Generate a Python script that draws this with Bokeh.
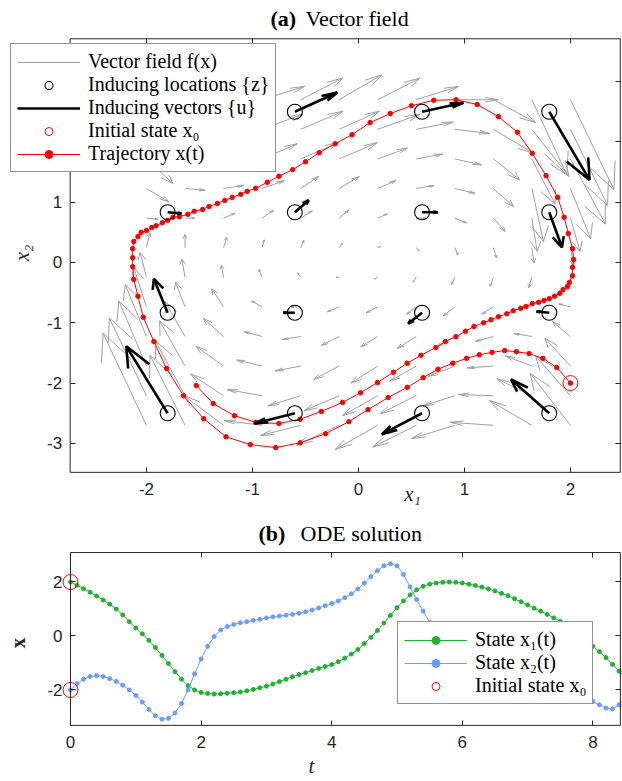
from bokeh.plotting import figure
from bokeh.models import (Range1d, LinearAxis, FixedTicker, Legend, LegendItem, Label,
                          BoxAnnotation)
from bokeh.layouts import column
from bokeh.embed import file_html
from bokeh.resources import INLINE

# ---------------- data: panel (a) ----------------
GRID_X = [-2.0, -1.636, -1.273, -0.909, -0.545, -0.182, 0.182, 0.545, 0.909, 1.273, 1.636, 2.0]
GRID_Y = [-2.7, -2.209, -1.718, -1.227, -0.736, -0.245, 0.245, 0.736, 1.227, 1.718, 2.209, 2.7]
# rows follow GRID_Y (bottom to top), columns follow GRID_X
FIELD_U = [
    [-0.41, -0.33, -0.38, -0.36, -0.38, -0.40, -0.40, -0.41, -0.41, -0.41, -0.40, -0.38],
    [-0.35, -0.28, -0.31, -0.33, -0.31, -0.33, -0.33, -0.34, -0.30, -0.33, -0.33, -0.33],
    [-0.26, -0.24, -0.26, -0.24, -0.24, -0.24, -0.25, -0.25, -0.25, -0.25, -0.25, -0.24],
    [-0.20, -0.19, -0.19, -0.17, -0.17, -0.17, -0.16, -0.18, -0.17, -0.17, -0.17, -0.17],
    [-0.12, -0.09, -0.11, -0.10, -0.09, -0.11, -0.11, -0.09, -0.11, -0.11, -0.09, -0.11],
    [-0.06, -0.03, -0.02, -0.03, -0.03, -0.03, -0.03, -0.03, -0.03, -0.03, -0.03, -0.02],
    [0.03, 0.00, 0.03, 0.02, 0.03, 0.03, 0.03, 0.03, 0.03, 0.03, 0.02, 0.03],
    [0.11, 0.09, 0.11, 0.11, 0.11, 0.09, 0.09, 0.09, 0.11, 0.11, 0.05, 0.09],
    [0.21, 0.19, 0.19, 0.21, 0.17, 0.19, 0.17, 0.17, 0.19, 0.19, 0.11, 0.19],
    [0.25, 0.28, 0.30, 0.33, 0.36, 0.36, 0.28, 0.25, 0.25, 0.25, 0.22, 0.33],
    [0.28, 0.33, 0.36, 0.38, 0.40, 0.38, 0.40, 0.35, 0.33, 0.38, 0.35, 0.35],
    [0.33, 0.36, 0.38, 0.40, 0.40, 0.40, 0.40, 0.40, 0.41, 0.40, 0.33, 0.41],
]
FIELD_V = [
    [1.53, 1.16, 0.50, 0.08, -0.17, -0.33, -0.40, -0.36, -0.22, 0.05, 0.41, 0.86],
    [1.29, 0.91, 0.36, 0.10, -0.17, -0.25, -0.33, -0.30, -0.17, 0.02, 0.28, 0.66],
    [1.08, 0.75, 0.33, 0.10, -0.08, -0.22, -0.28, -0.25, -0.17, -0.03, 0.17, 0.46],
    [0.86, 0.58, 0.30, 0.08, -0.05, -0.15, -0.17, -0.20, -0.17, -0.08, 0.05, 0.25],
    [0.65, 0.41, 0.30, 0.10, 0.00, -0.08, -0.10, -0.12, -0.15, -0.12, 0.00, 0.05],
    [0.41, 0.30, 0.20, 0.13, 0.07, 0.00, -0.03, -0.08, -0.12, -0.15, -0.17, -0.20],
    [0.25, 0.22, 0.17, 0.13, 0.12, 0.07, 0.02, -0.05, -0.12, -0.17, -0.25, -0.30],
    [-0.02, 0.00, 0.08, 0.13, 0.12, 0.13, 0.07, 0.00, -0.08, -0.22, -0.55, -0.55],
    [-0.22, -0.03, 0.05, 0.13, 0.20, 0.20, 0.13, 0.05, -0.08, -0.30, -0.88, -0.83],
    [-0.41, -0.17, 0.17, 0.25, 0.27, 0.27, 0.18, 0.08, -0.10, -0.35, -0.75, -1.08],
    [-0.08, 0.08, 0.25, 0.25, 0.30, 0.30, 0.25, 0.12, -0.07, -0.40, -0.78, -1.26],
    [0.20, 0.25, 0.30, 0.22, 0.36, 0.41, 0.36, 0.22, 0.00, -0.38, -1.24, -1.49],
]

Z_X = [-1.8, -0.6, 0.6, 1.8]
Z_Y = [-2.5, -0.833, 0.833, 2.5]
IND_U = [
    [-0.39, -0.38, -0.38, -0.36],
    [-0.13, -0.11, -0.13, -0.12],
    [0.13, 0.13, 0.15, 0.12],
    [0.38, 0.40, 0.39, 0.38],
]
IND_V = [
    [1.11, -0.17, -0.35, 0.56],
    [0.56, 0.00, -0.18, 0.02],
    [-0.02, 0.20, 0.00, -0.58],
    [0.25, 0.32, 0.15, -1.13],
]

X0 = [2.0, -2.0]

TRAJ_X1 = [2.00, 1.87, 1.74, 1.61, 1.49, 1.38, 1.26, 1.14, 1.02, 0.89, 0.75, 0.61, 0.46, 0.28, 0.09,
           -0.09, -0.31, -0.55, -0.78, -1.02, -1.25, -1.46, -1.65, -1.81, -1.93, -2.03, -2.08, -2.12,
           -2.13, -2.13, -2.13, -2.12, -2.08, -2.05, -2.00, -1.95, -1.91, -1.85, -1.80, -1.75, -1.69,
           -1.61, -1.55, -1.47, -1.41, -1.33, -1.26, -1.19, -1.11, -1.05, -0.97, -0.86, -0.75, -0.62,
           -0.50, -0.37, -0.22, -0.06, 0.11, 0.30, 0.50, 0.71, 0.92, 1.12, 1.32, 1.50, 1.64, 1.77,
           1.88, 1.94, 1.98, 2.02, 2.03, 2.02, 2.02, 1.99, 1.97, 1.93, 1.90, 1.85, 1.80, 1.75, 1.70,
           1.64, 1.58, 1.53, 1.46, 1.40, 1.32, 1.25, 1.18, 1.09, 1.01, 0.92, 0.82, 0.73, 0.59, 0.46,
           0.33, 0.18, 0.02, -0.15, -0.35, -0.55, -0.75, -0.97, -1.17, -1.37, -1.53]
TRAJ_X2 = [-2.00, -1.74, -1.59, -1.51, -1.48, -1.46, -1.49, -1.53, -1.59, -1.67, -1.77, -1.91, -2.07,
           -2.24, -2.44, -2.64, -2.84, -2.99, -3.07, -3.02, -2.89, -2.59, -2.21, -1.76, -1.31, -0.91,
           -0.56, -0.28, -0.07, 0.08, 0.23, 0.35, 0.43, 0.50, 0.53, 0.58, 0.61, 0.66, 0.70, 0.75, 0.76,
           0.80, 0.85, 0.88, 0.93, 0.98, 1.03, 1.08, 1.13, 1.18, 1.23, 1.33, 1.43, 1.54, 1.67, 1.82,
           1.97, 2.12, 2.32, 2.47, 2.60, 2.69, 2.70, 2.62, 2.42, 2.16, 1.81, 1.44, 1.08, 0.75, 0.48,
           0.23, 0.05, -0.08, -0.22, -0.33, -0.40, -0.45, -0.51, -0.56, -0.60, -0.63, -0.66, -0.68,
           -0.73, -0.76, -0.80, -0.85, -0.90, -0.95, -1.00, -1.06, -1.14, -1.23, -1.31, -1.41, -1.54,
           -1.67, -1.82, -1.99, -2.16, -2.32, -2.47, -2.60, -2.67, -2.65, -2.54, -2.34, -2.04]

# ---------------- data: panel (b) ----------------
T = [0.0, 0.1, 0.2, 0.3, 0.4, 0.5, 0.6, 0.7, 0.8, 0.9, 1.0, 1.1, 1.2, 1.3, 1.4, 1.5, 1.6, 1.7, 1.8, 1.9,
     2.0, 2.1, 2.2, 2.3, 2.4, 2.5, 2.6, 2.7, 2.8, 2.9, 3.0, 3.1, 3.2, 3.3, 3.4, 3.5, 3.6, 3.7, 3.8, 3.9,
     4.0, 4.1, 4.2, 4.3, 4.4, 4.5, 4.6, 4.7, 4.8, 4.9, 5.0, 5.1, 5.2, 5.3, 5.4, 5.5, 5.6, 5.7, 5.8, 5.9,
     6.0, 6.1, 6.2, 6.3, 6.4, 6.5, 6.6, 6.7, 6.8, 6.9, 7.0, 7.1, 7.2, 7.3, 7.4, 7.5, 7.6, 7.7, 7.8, 7.9,
     8.0, 8.1, 8.2, 8.3, 8.4, 8.5]
STATE_X1 = [2.00, 1.88, 1.75, 1.62, 1.48, 1.33, 1.18, 1.00, 0.78, 0.53, 0.30, 0.08, -0.16, -0.43, -0.72,
            -1.02, -1.32, -1.60, -1.84, -2.00, -2.09, -2.13, -2.15, -2.14, -2.12, -2.10, -2.07, -2.03,
            -1.98, -1.92, -1.86, -1.78, -1.69, -1.60, -1.51, -1.43, -1.36, -1.28, -1.20, -1.13, -1.06,
            -0.95, -0.82, -0.67, -0.50, -0.28, -0.05, 0.20, 0.48, 0.76, 1.05, 1.30, 1.52, 1.71, 1.84,
            1.92, 1.96, 1.99, 2.00, 1.99, 1.96, 1.92, 1.87, 1.81, 1.74, 1.67, 1.58, 1.49, 1.38, 1.27,
            1.15, 1.03, 0.92, 0.80, 0.67, 0.55, 0.40, 0.22, 0.02, -0.18, -0.38, -0.58, -0.80, -1.05,
            -1.30, -1.52]
STATE_X2 = [-2.00, -1.76, -1.60, -1.50, -1.47, -1.50, -1.58, -1.68, -1.82, -2.00, -2.20, -2.45, -2.72,
            -2.95, -3.08, -3.05, -2.85, -2.50, -2.00, -1.40, -0.85, -0.38, -0.02, 0.22, 0.35, 0.43, 0.49,
            0.53, 0.58, 0.62, 0.67, 0.71, 0.74, 0.77, 0.80, 0.84, 0.90, 0.96, 1.04, 1.12, 1.20, 1.30,
            1.42, 1.56, 1.74, 1.96, 2.20, 2.42, 2.60, 2.68, 2.60, 2.28, 1.82, 1.35, 0.92, 0.50, 0.20,
            -0.05, -0.20, -0.30, -0.40, -0.47, -0.53, -0.58, -0.63, -0.68, -0.73, -0.79, -0.86, -0.93,
            -1.01, -1.10, -1.20, -1.33, -1.48, -1.62, -1.80, -2.00, -2.18, -2.32, -2.43, -2.55, -2.67,
            -2.70, -2.55, -2.25]

# ---------------- style ----------------
SERIF = "Liberation Serif"
SANS = "Liberation Sans"
AX = "#262626"
GRAY = "#a0a0a0"
RED = "#ff0000"
GREEN = "#1db32e"
BLUE = "#6a9cff"


def quiver(xs, ys, us, vs, alpha=0.3, beta=0.3):
    sx0, sy0, sx1, sy1, hx, hy = [], [], [], [], [], []
    for x, y, u, v in zip(xs, ys, us, vs):
        tx, ty = x + u, y + v
        sx0.append(x); sy0.append(y); sx1.append(tx); sy1.append(ty)
        hx.append([tx - alpha * (u + beta * v), tx, tx - alpha * (u - beta * v)])
        hy.append([ty - alpha * (v - beta * u), ty, ty - alpha * (v + beta * u)])
    return sx0, sy0, sx1, sy1, hx, hy


def hyphen_labels(ticks):
    return {t: str(t) for t in ticks}


def add_box_axes(p, box_x, box_y, xticks, yticks):
    common = dict(major_tick_in=5, major_tick_out=0, minor_tick_line_color=None,
                  axis_line_color=None, major_tick_line_color=AX,
                  major_label_text_font=SANS, major_label_text_font_size="17px",
                  major_label_text_color=AX, axis_label_text_font=SERIF,
                  axis_label_text_font_size="21px", axis_label_text_color=AX)
    left = LinearAxis(fixed_location=box_x[0], ticker=FixedTicker(ticks=yticks),
                      major_label_overrides=hyphen_labels(yticks), major_label_standoff=8, **common)
    below = LinearAxis(fixed_location=box_y[0], ticker=FixedTicker(ticks=xticks),
                       major_label_overrides=hyphen_labels(xticks), major_label_standoff=11, **common)
    quiet = dict(common)
    quiet["major_label_text_color"] = None
    right = LinearAxis(fixed_location=box_x[1], ticker=FixedTicker(ticks=yticks), **quiet)
    above = LinearAxis(fixed_location=box_y[1], ticker=FixedTicker(ticks=xticks), **quiet)
    p.add_layout(left, "left")
    p.add_layout(below, "below")
    p.add_layout(right, "right")
    p.add_layout(above, "above")
    p.add_layout(BoxAnnotation(left=box_x[0], right=box_x[1], bottom=box_y[0], top=box_y[1],
                               fill_color=None, fill_alpha=0, line_color=AX, line_width=1,
                               line_alpha=1))
    return left, below


def style_legend(leg):
    leg.label_text_font = SERIF
    leg.label_text_font_size = "20px"
    leg.label_text_line_height = 1.05
    leg.label_text_color = "black"
    leg.glyph_width = 63
    leg.glyph_height = 20
    leg.label_height = 20
    leg.label_standoff = 8
    leg.spacing = 0
    leg.padding = 6
    leg.margin = 0
    leg.border_line_color = AX
    leg.border_line_width = 1
    leg.background_fill_color = "white"
    leg.background_fill_alpha = 1.0


def base_figure(w, h, xr, yr):
    p = figure(width=w, height=h, output_backend="svg", toolbar_location=None,
               x_range=Range1d(*xr), y_range=Range1d(*yr), x_axis_type=None, y_axis_type=None,
               min_border=0, min_border_left=0, min_border_right=0, min_border_top=0,
               min_border_bottom=0)
    p.outline_line_color = None
    p.background_fill_color = "white"
    p.border_fill_color = "white"
    return p


# ---------------- panel (a) ----------------
BOX_A_X = (-2.72, 2.47)
BOX_A_Y = (-3.48, 3.71)
p1 = base_figure(622, 505, (-3.377, 2.491), (-4.030, 4.345))
ax_l1, ax_b1 = add_box_axes(p1, BOX_A_X, BOX_A_Y, [-2, -1, 0, 1, 2], [-3, -2, -1, 0, 1, 2, 3])
ax_l1.axis_label = "x₂"
ax_l1.axis_label_text_font_style = "italic"
ax_l1.axis_label_standoff = 10

gx, gy, gu, gv = [], [], [], []
for i, yv in enumerate(GRID_Y):
    for j, xv in enumerate(GRID_X):
        gx.append(xv); gy.append(yv); gu.append(FIELD_U[i][j]); gv.append(FIELD_V[i][j])
a0, b0, a1, b1, hx, hy = quiver(gx, gy, gu, gv)
r_field = p1.segment(a0, b0, a1, b1, line_color=GRAY, line_width=1)
p1.multi_line(hx, hy, line_color=GRAY, line_width=1)

r_traj_line = p1.line(TRAJ_X1, TRAJ_X2, line_color=RED, line_width=1)
r_traj_dots = p1.scatter(TRAJ_X1, TRAJ_X2, size=4.5, fill_color=RED, line_color=RED)

zx, zy, zu, zv = [], [], [], []
for i, yv in enumerate(Z_Y):
    for j, xv in enumerate(Z_X):
        zx.append(xv); zy.append(yv); zu.append(IND_U[i][j]); zv.append(IND_V[i][j])
c0, d0, c1, d1, ihx, ihy = quiver(zx, zy, zu, zv, alpha=0.3, beta=0.3)
r_ind = p1.segment(c0, d0, c1, d1, line_color="black", line_width=2.6)
p1.multi_line(ihx, ihy, line_color="black", line_width=2.6)
r_zloc = p1.scatter(zx, zy, size=15, marker="circle", fill_color=None, line_color="black", line_width=1.1)
r_x0 = p1.scatter([X0[0]], [X0[1]], size=15, marker="circle", fill_color=None, line_color=RED, line_width=1)

leg1 = Legend(items=[
    LegendItem(label="Vector field f(x)", renderers=[r_field]),
    LegendItem(label="Inducing locations {z}", renderers=[r_zloc]),
    LegendItem(label="Inducing vectors {u}", renderers=[r_ind]),
    LegendItem(label="Initial state x₀", renderers=[r_x0]),
    LegendItem(label="Trajectory x(t)", renderers=[r_traj_line, r_traj_dots]),
], location=(10, 333))
style_legend(leg1)
p1.add_layout(leg1)

p1.add_layout(Label(x=270, y=487, x_units="screen", y_units="screen", text="(a)",
                    text_font=SERIF, text_font_size="22px", text_font_style="bold",
                    text_baseline="middle", text_color="black"))
p1.add_layout(Label(x=305, y=487, x_units="screen", y_units="screen", text="Vector field",
                    text_font=SERIF, text_font_size="22px",
                    text_baseline="middle", text_color="black"))
p1.add_layout(Label(x=412, y=12, x_units="screen", y_units="screen", text="x₁",
                    text_font=SERIF, text_font_size="21px", text_font_style="italic",
                    text_align="center", text_baseline="middle", text_color=AX))

# ---------------- panel (b) ----------------
BOX_B_X = (0.0, 8.42)
BOX_B_Y = (-3.31, 3.09)
p2 = base_figure(622, 275, (-1.072, 8.453), (-5.352, 4.833))
ax_l2, ax_b2 = add_box_axes(p2, BOX_B_X, BOX_B_Y, [0, 2, 4, 6, 8], [-2, 0, 2])
ax_l2.axis_label = "x"
ax_l2.axis_label_text_font_style = "bold"
ax_l2.axis_label_standoff = 14
ax_b2.axis_label = "t"
ax_b2.axis_label_text_font_style = "italic"
ax_b2.axis_label_standoff = 2

l1 = p2.line(T, STATE_X1, line_color=GREEN, line_width=1)
s1 = p2.scatter(T, STATE_X1, size=4, fill_color=GREEN, line_color=GREEN)
l2 = p2.line(T, STATE_X2, line_color=BLUE, line_width=1)
s2 = p2.scatter(T, STATE_X2, size=4, fill_color=BLUE, line_color=BLUE)
r_init = p2.scatter([T[0], T[0]], X0, size=15, marker="circle", fill_color=None, line_color=RED, line_width=1)

leg2 = Legend(items=[
    LegendItem(label="State x₁(t)", renderers=[l1, s1]),
    LegendItem(label="State x₂(t)", renderers=[l2, s2]),
    LegendItem(label="Initial state x₀", renderers=[r_init]),
], location=(397, 76))
style_legend(leg2)
p2.add_layout(leg2)

p2.add_layout(Label(x=258, y=247, x_units="screen", y_units="screen", text="(b)",
                    text_font=SERIF, text_font_size="22px", text_font_style="bold",
                    text_baseline="middle", text_color="black"))
p2.add_layout(Label(x=300, y=247, x_units="screen", y_units="screen", text="ODE solution",
                    text_font=SERIF, text_font_size="22px",
                    text_baseline="middle", text_color="black"))

layout = column(p1, p2, spacing=0)
open("out.html", "w").write(file_html(layout, INLINE))
